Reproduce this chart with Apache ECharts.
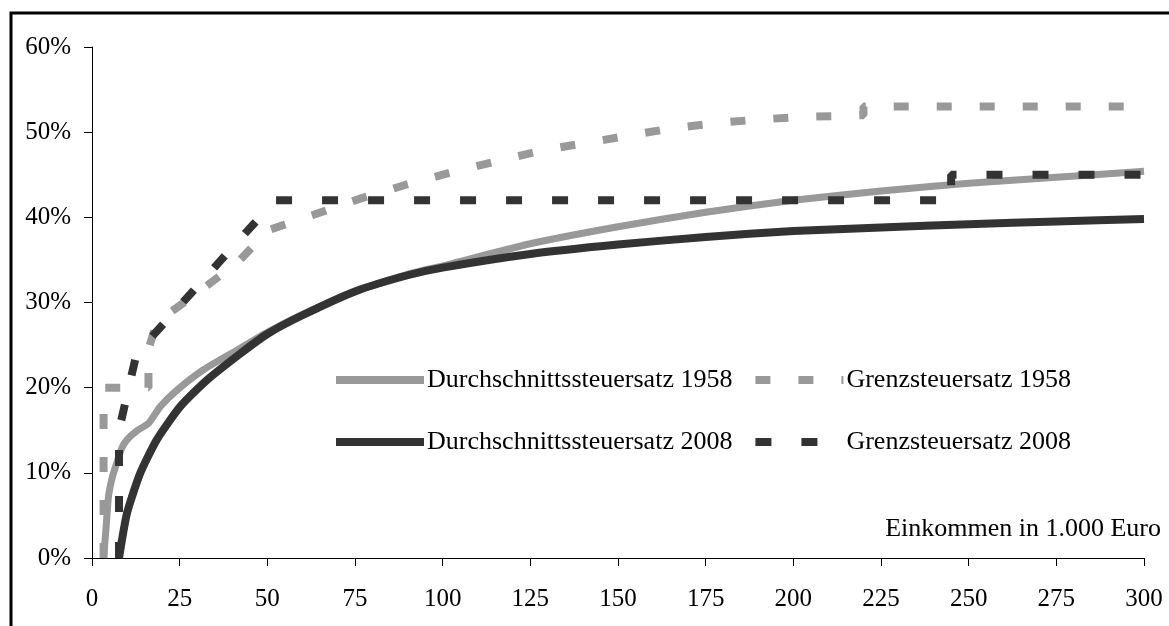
<!DOCTYPE html>
<html>
<head>
<meta charset="utf-8">
<script src="https://cdn.jsdelivr.net/npm/echarts@6/dist/echarts.min.js"></script>
<style>
  html, body { margin: 0; padding: 0; background: #fff; }
  #chart { width: 1169px; height: 626px; }
</style>
</head>
<body>
<div id="chart"></div>
<script>
// Einkommen in 1.000 Euro (x) und Steuersatz in % (y)
const avg1958X = [3.3, 4.0, 4.7, 5.8, 7.1, 8.5, 10, 13, 16.1, 19.5, 24.2, 31.8, 41.3, 50, 60, 75, 90, 100, 125, 150, 175, 200, 225, 250, 275, 300]
const avg1958Y = [0, 3.5, 7.2, 9.5, 11.2, 12.9, 13.9, 15.0, 15.8, 17.8, 19.7, 22.1, 24.4, 26.5, 28.6, 31.3, 33.3, 34.3, 36.9, 38.9, 40.6, 42.0, 43.1, 44.0, 44.7, 45.4]

const marg1958X = [3.3, 3.3, 16.1, 16.1, 18.5, 29.9, 41.3, 50.3, 63.2, 76.5, 89.3, 102.6, 115.7, 128.7, 142, 154.4, 166.3, 178.6, 190.7, 202.6, 214.7, 220, 220, 300]
const marg1958Y = [0, 20, 20, 24.5, 27.7, 31.1, 34.6, 38.5, 40.3, 42.2, 43.8, 45.3, 46.6, 47.9, 48.8, 49.7, 50.5, 51.1, 51.5, 51.8, 51.9, 52.0, 53, 53]

const avg2008X = [7.7, 10, 13.8, 18.5, 25.2, 32.8, 42.3, 50, 60, 75, 90, 100, 125, 150, 175, 200, 225, 250, 275, 300]
const avg2008Y = [0, 5.3, 10, 13.9, 17.8, 20.9, 24.0, 26.3, 28.5, 31.3, 33.2, 34.1, 35.7, 36.8, 37.7, 38.4, 38.8, 39.2, 39.5, 39.8]

const marg2008X = [7.7, 7.7, 12.7, 52.2, 245, 245, 300]
const marg2008Y = [0, 15, 24, 42, 42, 45, 45]

const xTicks = { min: 0, max: 300, interval: 25 }
const yTicks = { min: 0, max: 60, interval: 10 }

const NAMES = ['Durchschnittssteuersatz 1958', 'Grenzsteuersatz 1958', 'Durchschnittssteuersatz 2008', 'Grenzsteuersatz 2008']
const LIGHT = '#999999'
const DARK = '#333333'
const FONT = '"Liberation Serif", "Times New Roman", serif'

const zip = (xs, ys) => xs.map((x, i) => [x, ys[i]])

const chart = echarts.init(document.getElementById('chart'))

const legendBase = {
  orient: 'horizontal',
  left: 332,
  itemWidth: 88,
  itemHeight: 14,
  itemGap: 19,
  padding: 0,
  selectedMode: false,
  itemStyle: { opacity: 0 },
  lineStyle: { width: 8 },
  textStyle: { fontFamily: FONT, fontSize: 26, color: '#000', lineHeight: 26, padding: [0, 0, 0, -2] }
}

chart.setOption({
  animation: false,
  backgroundColor: '#fff',
  grid: { left: 92, right: 25, top: 47, bottom: 68 },
  legend: [
    Object.assign({}, legendBase, { top: 367, data: [NAMES[0], NAMES[1]] }),
    Object.assign({}, legendBase, { top: 429, data: [NAMES[2], NAMES[3]] })
  ],
  xAxis: {
    type: 'value',
    min: xTicks.min,
    max: xTicks.max,
    interval: xTicks.interval,
    splitLine: { show: false },
    axisLine: { onZero: false, lineStyle: { color: '#000', width: 1 } },
    axisTick: { show: true, length: 8, lineStyle: { color: '#000' } },
    axisLabel: { fontFamily: FONT, fontSize: 25, color: '#000', margin: 29 }
  },
  yAxis: {
    type: 'value',
    min: yTicks.min,
    max: yTicks.max,
    interval: yTicks.interval,
    splitLine: { show: false },
    axisLine: { show: true, lineStyle: { color: '#000', width: 1 } },
    axisTick: { show: true, length: 8, lineStyle: { color: '#000' } },
    axisLabel: { fontFamily: FONT, fontSize: 25, color: '#000', margin: 21, formatter: '{value}%' }
  },
  graphic: [
    {
      type: 'rect',
      shape: { x: 11, y: 13, width: 1200, height: 700 },
      style: { fill: 'none', stroke: '#000', lineWidth: 3 },
      silent: true
    },
    {
      type: 'text',
      x: 1161,
      y: 529,
      style: { text: 'Einkommen in 1.000 Euro', fontFamily: FONT, fontSize: 26, fill: '#000', align: 'right', verticalAlign: 'middle' }
    }
  ],
  series: [
    {
      name: NAMES[0],
      type: 'line',
      data: zip(avg1958X, avg1958Y),
      symbol: 'none',
      smooth: 0.2,
      lineStyle: { color: LIGHT, width: 7, join: 'round' },
      itemStyle: { color: LIGHT },
      z: 2
    },
    {
      name: NAMES[1],
      type: 'line',
      data: zip(marg1958X, marg1958Y),
      symbol: 'none',
      lineStyle: { color: LIGHT, width: 8, type: [15, 28], cap: 'butt' },
      itemStyle: { color: LIGHT },
      z: 3
    },
    {
      name: NAMES[2],
      type: 'line',
      data: zip(avg2008X, avg2008Y),
      symbol: 'none',
      smooth: 0.2,
      lineStyle: { color: DARK, width: 8, join: 'round' },
      itemStyle: { color: DARK },
      z: 4
    },
    {
      name: NAMES[3],
      type: 'line',
      data: zip(marg2008X, marg2008Y),
      symbol: 'none',
      lineStyle: { color: DARK, width: 8, type: [16, 30], cap: 'butt' },
      itemStyle: { color: DARK },
      z: 5
    }
  ]
})
</script>
</body>
</html>
